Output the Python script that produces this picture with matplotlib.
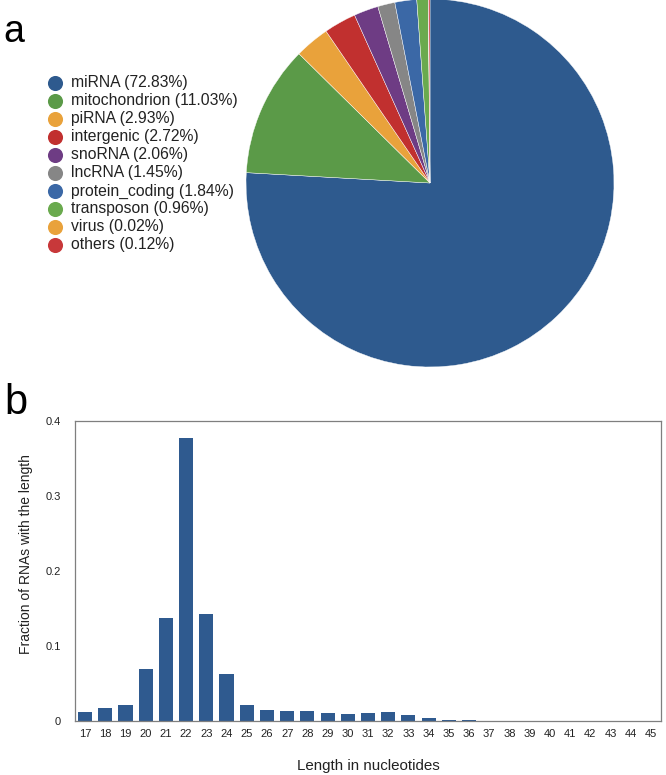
import matplotlib
matplotlib.use("Agg")
import matplotlib.pyplot as plt
import numpy as np

plt.rcParams['font.family'] = ['Liberation Sans', 'DejaVu Sans']

# ---- data ----
categories = ["miRNA", "mitochondrion", "piRNA", "intergenic", "snoRNA", "lncRNA",
              "protein_coding", "transposon", "virus", "others"]
percentages = [72.83, 11.03, 2.93, 2.72, 2.06, 1.45, 1.84, 0.96, 0.02, 0.12]
pie_colors = ["#2E5A8E", "#5B9A48", "#E9A23B", "#C1302F", "#6E3C84", "#868686",
              "#3B68A6", "#6AAA4E", "#E9A23B", "#C8383A"]

lengths = list(range(17, 46))
fractions = [0.0123, 0.0175, 0.0215, 0.0689, 0.137, 0.377, 0.1425, 0.0627, 0.021,
             0.0149, 0.0136, 0.0127, 0.0105, 0.0095, 0.0102, 0.012, 0.0076, 0.0036,
             0.0018, 0.0009, 0, 0, 0, 0, 0, 0, 0, 0, 0]
bar_color = "#2F5A8F"

W, H = 666, 775
fig = plt.figure(figsize=(W/100, H/100), dpi=100)

# ---- pie ----
cx, cy, r = 430, 183, 184
axp = fig.add_axes([(cx - r)/W, 1 - (cy + r)/H, 2*r/W, 2*r/H])
axp.pie(percentages, colors=pie_colors, startangle=90, counterclock=False,
        wedgeprops=dict(linewidth=0.3, edgecolor="white"))
axp.set_xlim(-1, 1)
axp.set_ylim(-1, 1)
axp.set_aspect("equal")
axp.axis("off")

# ---- legend overlay ----
axl = fig.add_axes([0, 0, 1, 1], zorder=-1)
axl.set_xlim(0, W)
axl.set_ylim(H, 0)
axl.axis("off")
for i, (c, p, col) in enumerate(zip(categories, percentages, pie_colors)):
    y = 83 + i * 18
    axl.scatter([55], [y], s=118, color=col, linewidths=0)
    axl.text(71, y, f"{c} ({p:.2f}%)", fontsize=11.3, va="center", ha="left", color="#222222")

fig.text(3/W, 1 - 42/H, "a", fontsize=27, ha="left", va="baseline")
fig.text(4/W, 1 - 414/H, "b", fontsize=30, ha="left", va="baseline")

# ---- bar chart ----
axb = fig.add_axes([75/W, 1 - 721/H, 586/W, 300/H])
axb.bar(lengths, fractions, width=0.7, color=bar_color)
axb.set_xlim(16.5, 45.5)
axb.set_ylim(0, 0.4)
axb.set_xticks(lengths)
axb.set_xticklabels([str(v) for v in lengths], fontsize=8, color="#222222")
axb.set_yticks([0, 0.1, 0.2, 0.3, 0.4])
axb.set_yticklabels(["0", "0.1", "0.2", "0.3", "0.4"], fontsize=8, color="#222222")
axb.tick_params(axis="x", length=0, pad=6)
axb.tick_params(axis="y", length=0, pad=10)
for s in axb.spines.values():
    s.set_color("#7F7F7F")
    s.set_linewidth(0.9)
axb.set_xlabel("Length in nucleotides", fontsize=10.9, labelpad=14, color="#222222")
axb.set_ylabel("Fraction of RNAs with the length", fontsize=10, color="#222222")
axb.yaxis.set_label_coords(-0.072, 0.557)

fig.savefig("out.png", dpi=100)
